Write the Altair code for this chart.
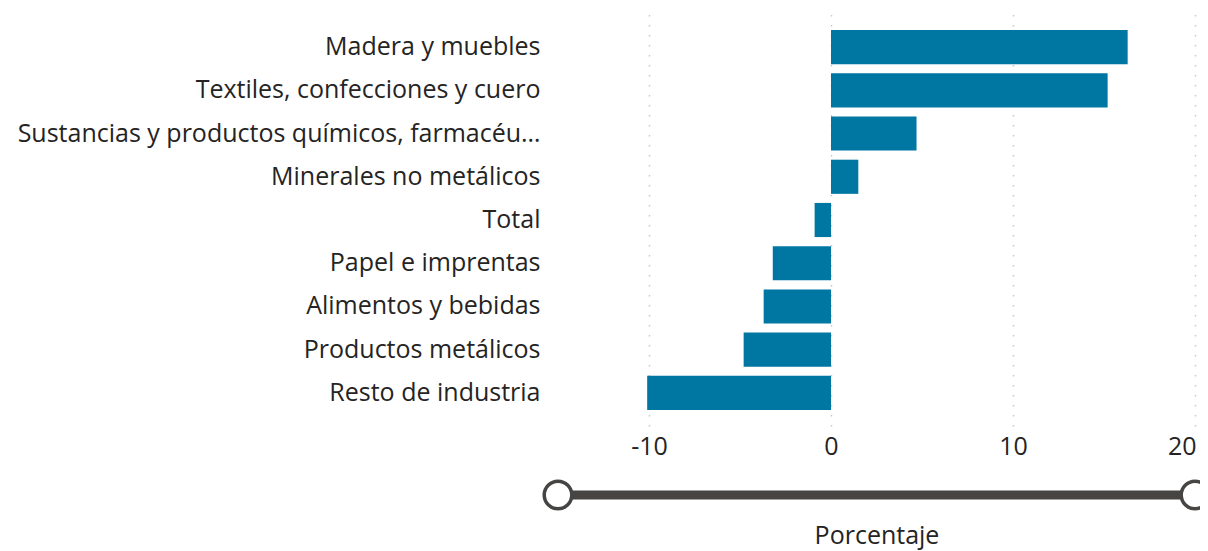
import altair as alt
import pandas as pd

categories = [
    "Madera y muebles",
    "Textiles, confecciones y cuero",
    "Sustancias y productos químicos, farmacéuticos y botánicos",
    "Minerales no metálicos",
    "Total",
    "Papel e imprentas",
    "Alimentos y bebidas",
    "Productos metálicos",
    "Resto de industria",
]
values = [16.3, 15.2, 4.7, 1.5, -0.9, -3.2, -3.7, -4.8, -10.1]
x_ticks = [-10, 0, 10, 20]
x_domain = [-15, 20]

df = pd.DataFrame({"Sector": categories, "Porcentaje": values})

FONT = "Open Sans"
FS = 25
TEXT = "#252423"
BAR = "#0077A3"
SLIDER = "#474544"

x_scale = alt.Scale(domain=x_domain, nice=False, zero=False)

bars = alt.Chart(df).mark_bar(color=BAR).encode(
    x=alt.X(
        "Porcentaje:Q",
        scale=x_scale,
        axis=alt.Axis(
            values=x_ticks,
            title="Porcentaje",
            grid=True,
            gridDash=[1.5, 8.5],
            gridColor="#C8C8C8",
            gridWidth=1.5,
            domain=False,
            ticks=False,
            labelExpr="'' + datum.value",
            labelFont=FONT,
            labelFontSize=FS,
            labelColor=TEXT,
            labelPadding=8,
            labelOverlap=False,
            labelFlush=True,
            labelFlushOffset=1,
            titleFont=FONT,
            titleFontSize=FS,
            titleFontWeight="normal",
            titleColor=TEXT,
            titlePadding=64,
        ),
    ),
    y=alt.Y(
        "Sector:N",
        sort=categories,
        scale=alt.Scale(paddingInner=0.21, paddingOuter=0.37),
        axis=alt.Axis(
            title=None,
            domain=False,
            ticks=False,
            grid=False,
            labelExpr="length(datum.label) > 41 ? slice(datum.label, 0, 41) + '…' : datum.label",
            labelFont=FONT,
            labelFontSize=FS,
            labelColor=TEXT,
            labelPadding=18,
            labelLimit=545,
        ),
    ),
)

slider_df = pd.DataFrame({"lo": [x_domain[0]], "hi": [x_domain[1]]})
ends_df = pd.DataFrame({"v": x_domain})

slider = alt.Chart(slider_df).mark_rule(color=SLIDER, strokeWidth=9, clip=False).encode(
    x=alt.X("lo:Q", scale=x_scale),
    x2="hi:Q",
    y=alt.value(481),
)

knobs = alt.Chart(ends_df).mark_point(
    shape="circle", filled=True, fill="white", stroke=SLIDER, strokeWidth=3.5, size=760, opacity=1, clip=False
).encode(
    x=alt.X("v:Q", scale=x_scale),
    y=alt.value(481),
)

chart = alt.layer(bars, slider, knobs).properties(
    width=637,
    height=412,
    background="white",
    autosize=alt.AutoSizeParams(type="none"),
    padding={"left": 550, "top": 6, "right": 5, "bottom": 124},
).configure_view(stroke=None, strokeWidth=0)

chart.save("out.html", embed_options={"renderer": "svg", "actions": False})
